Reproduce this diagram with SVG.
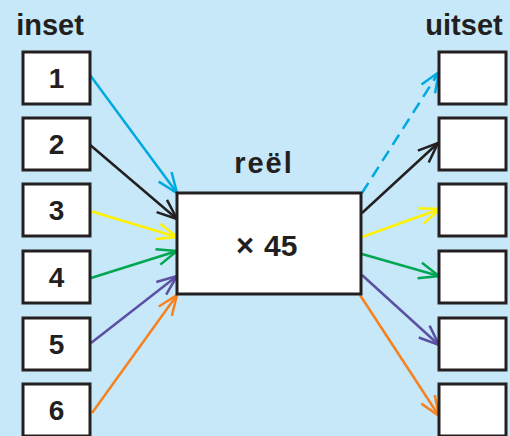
<svg xmlns="http://www.w3.org/2000/svg" width="510" height="436" viewBox="0 0 510 436">
<style>
.box{fill:#fff;stroke:#231f20;stroke-width:3}
.t{font-family:"Liberation Sans",Arial,sans-serif;font-weight:bold;fill:#231f20;text-anchor:middle}
.h{font-size:29px}
.d{font-size:28px}
.c{fill:none;stroke-width:2.5}
.ah{fill:none;stroke-width:2.5}
</style>
<defs>
<marker id="mc" markerUnits="userSpaceOnUse" markerWidth="40" markerHeight="40" refX="0" refY="0" orient="auto" overflow="visible"><path class="ah" d="M-20,-8 L0,0 L-20,8" stroke="#00a9e0"/></marker>
<marker id="mk" markerUnits="userSpaceOnUse" markerWidth="40" markerHeight="40" refX="0" refY="0" orient="auto" overflow="visible"><path class="ah" d="M-20,-8 L0,0 L-20,8" stroke="#231f20"/></marker>
<marker id="my" markerUnits="userSpaceOnUse" markerWidth="40" markerHeight="40" refX="0" refY="0" orient="auto" overflow="visible"><path class="ah" d="M-20,-8 L0,0 L-20,8" stroke="#fff200"/></marker>
<marker id="mg" markerUnits="userSpaceOnUse" markerWidth="40" markerHeight="40" refX="0" refY="0" orient="auto" overflow="visible"><path class="ah" d="M-20,-8 L0,0 L-20,8" stroke="#00a651"/></marker>
<marker id="mp" markerUnits="userSpaceOnUse" markerWidth="40" markerHeight="40" refX="0" refY="0" orient="auto" overflow="visible"><path class="ah" d="M-20,-8 L0,0 L-20,8" stroke="#5b50a2"/></marker>
<marker id="mo" markerUnits="userSpaceOnUse" markerWidth="40" markerHeight="40" refX="0" refY="0" orient="auto" overflow="visible"><path class="ah" d="M-20,-8 L0,0 L-20,8" stroke="#f6821f"/></marker>
</defs>
<rect x="0" y="0" width="510" height="436" fill="#c6e8f8"/>
<text class="t h" x="50" y="35">inset</text>
<text class="t h" x="464" y="35">uitset</text>
<g id="connectors">
<line class="c" x1="90" y1="75" x2="177" y2="193" stroke="#00a9e0" marker-end="url(#mc)"/>
<line class="c" x1="89" y1="144" x2="177" y2="219" stroke="#231f20" marker-end="url(#mk)"/>
<line class="c" x1="90" y1="211" x2="177" y2="237" stroke="#fff200" marker-end="url(#my)"/>
<line class="c" x1="91" y1="278" x2="177" y2="251" stroke="#00a651" marker-end="url(#mg)"/>
<line class="c" x1="91" y1="343" x2="177" y2="276" stroke="#5b50a2" marker-end="url(#mp)"/>
<line class="c" x1="92" y1="413" x2="177" y2="295" stroke="#f6821f" marker-end="url(#mo)"/>
<line class="c" x1="362" y1="193" x2="439" y2="72" stroke="#00a9e0" stroke-dasharray="12 7" marker-end="url(#mc)"/>
<line class="c" x1="362" y1="213" x2="438" y2="143" stroke="#231f20" marker-end="url(#mk)"/>
<line class="c" x1="362" y1="237" x2="440" y2="209" stroke="#fff200" marker-end="url(#my)"/>
<line class="c" x1="362" y1="254" x2="439" y2="276" stroke="#00a651" marker-end="url(#mg)"/>
<line class="c" x1="362" y1="275" x2="439" y2="345" stroke="#5b50a2" marker-end="url(#mp)"/>
<line class="c" x1="360" y1="295" x2="439" y2="416" stroke="#f6821f" marker-end="url(#mo)"/>
</g>
<g id="in1"><rect class="box" x="23" y="52" width="67" height="52"/><text class="t d" x="56.5" y="88">1</text></g>
<g id="in2"><rect class="box" x="23" y="118" width="67" height="52"/><text class="t d" x="56.5" y="154">2</text></g>
<g id="in3"><rect class="box" x="23" y="184" width="67" height="52"/><text class="t d" x="56.5" y="220">3</text></g>
<g id="in4"><rect class="box" x="23" y="251" width="67" height="52"/><text class="t d" x="56.5" y="287">4</text></g>
<g id="in5"><rect class="box" x="23" y="318" width="67" height="52"/><text class="t d" x="56.5" y="354">5</text></g>
<g id="in6"><rect class="box" x="23" y="384" width="67" height="52"/><text class="t d" x="56.5" y="420">6</text></g>
<g id="real"><text class="t h" x="264" y="173" letter-spacing="2">reël</text><rect class="box" x="177" y="193" width="184" height="101"/><text class="t" style="font-size:30px;text-anchor:start" x="236" y="256"><tspan style="font-size:31px">×</tspan><tspan x="264">45</tspan></text></g>
<g id="out1"><rect class="box" x="439" y="52" width="67" height="52"/></g>
<g id="out2"><rect class="box" x="439" y="118" width="67" height="52"/></g>
<g id="out3"><rect class="box" x="439" y="184" width="67" height="52"/></g>
<g id="out4"><rect class="box" x="439" y="251" width="67" height="52"/></g>
<g id="out5"><rect class="box" x="439" y="318" width="67" height="52"/></g>
<g id="out6"><rect class="box" x="439" y="384" width="67" height="52"/></g>
</svg>
